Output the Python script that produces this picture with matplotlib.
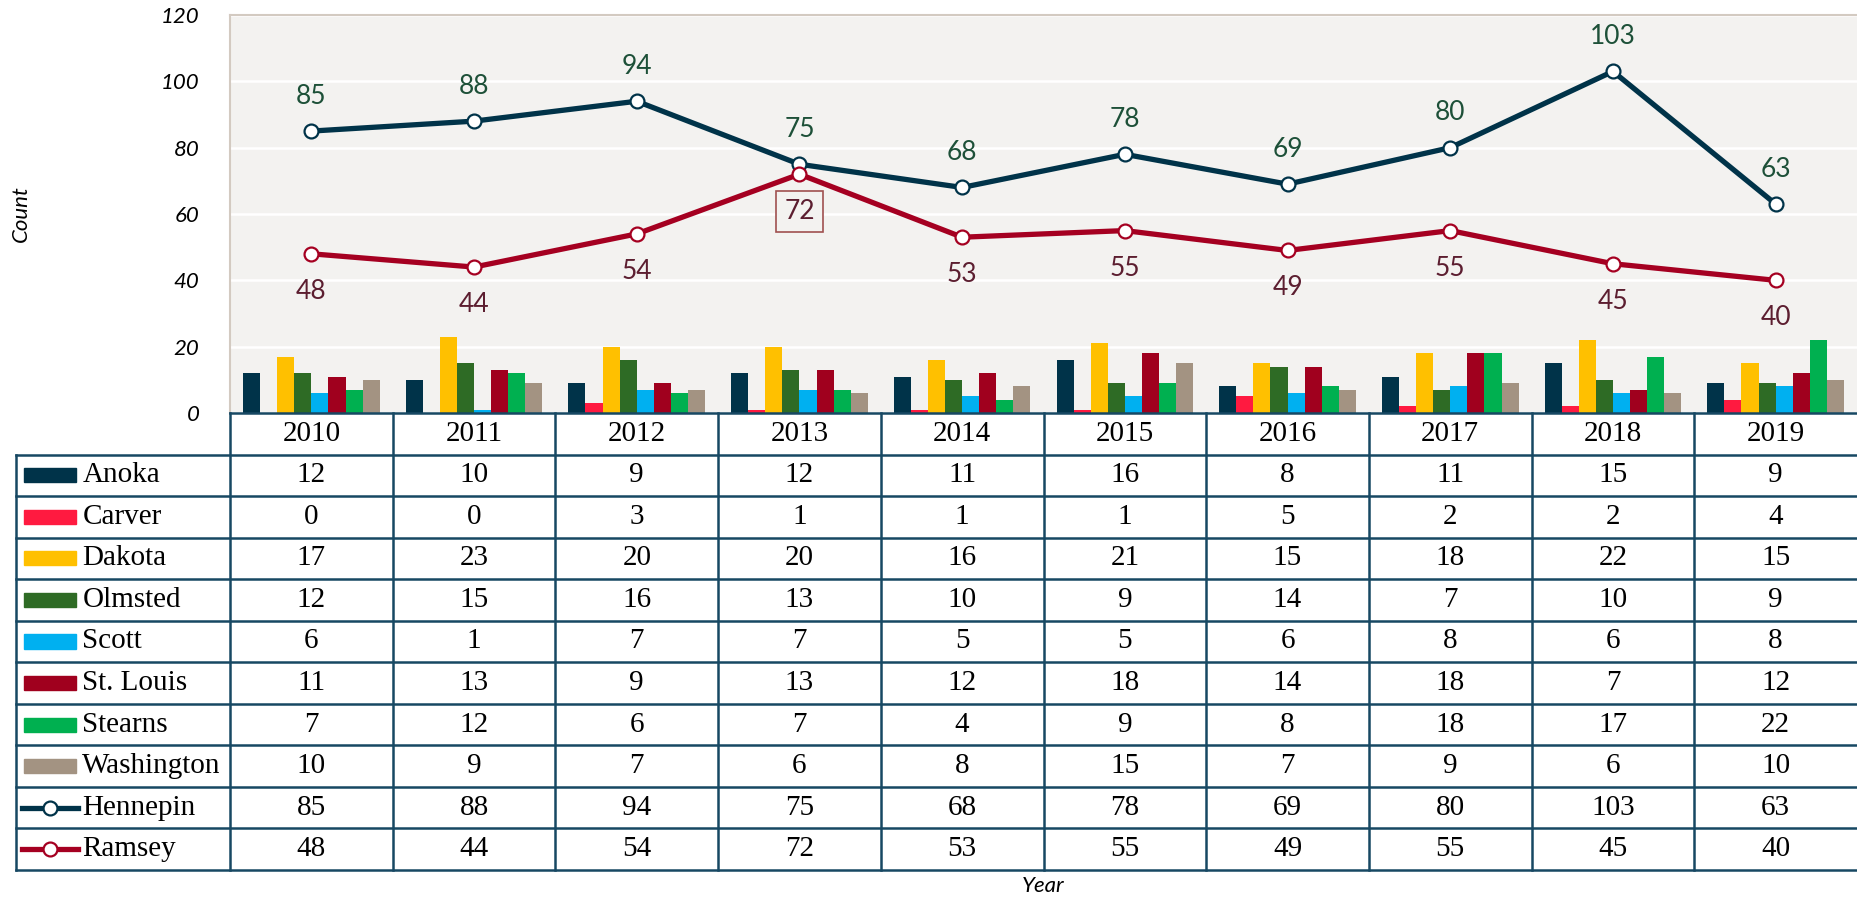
import matplotlib
matplotlib.use('Agg')
import matplotlib.pyplot as plt
from matplotlib.patches import Rectangle
from matplotlib.lines import Line2D

# data
years = ['2010', '2011', '2012', '2013', '2014', '2015', '2016', '2017', '2018', '2019']
bar_counties = ['Anoka', 'Carver', 'Dakota', 'Olmsted', 'Scott', 'St. Louis', 'Stearns', 'Washington']
anoka      = [12, 10, 9, 12, 11, 16, 8, 11, 15, 9]
carver     = [0, 0, 3, 1, 1, 1, 5, 2, 2, 4]
dakota     = [17, 23, 20, 20, 16, 21, 15, 18, 22, 15]
olmsted    = [12, 15, 16, 13, 10, 9, 14, 7, 10, 9]
scott      = [6, 1, 7, 7, 5, 5, 6, 8, 6, 8]
st_louis   = [11, 13, 9, 13, 12, 18, 14, 18, 7, 12]
stearns    = [7, 12, 6, 7, 4, 9, 8, 18, 17, 22]
washington = [10, 9, 7, 6, 8, 15, 7, 9, 6, 10]
hennepin   = [85, 88, 94, 75, 68, 78, 69, 80, 103, 63]
ramsey     = [48, 44, 54, 72, 53, 55, 49, 55, 45, 40]

bar_values = [anoka, carver, dakota, olmsted, scott, st_louis, stearns, washington]
bar_colors = ['#003349', '#FF1A40', '#FFC000', '#2E6B25', '#00B0F0', '#A0001E', '#00B050', '#A39382']
hen_color = '#003349'
ram_color = '#A50021'
grid_line = '#174863'

W, H = 1857, 902
fig = plt.figure(figsize=(W / 100, H / 100), dpi=100)

ax_left = 230 / W
ax_bottom = (H - 413) / H
ax_top = (H - 15) / H
ax = fig.add_axes([ax_left, ax_bottom, 1 - ax_left, ax_top - ax_bottom])
ax.set_facecolor('#F3F2F0')

n = len(years)
x = list(range(n))
bw = 0.105
for i, (vals, col) in enumerate(zip(bar_values, bar_colors)):
    xs = [xi + (i - 3.5) * bw for xi in x]
    ax.bar(xs, vals, width=bw, color=col, zorder=2)

ax.plot(x, hennepin, color=hen_color, lw=3.8, marker='o', ms=10, mfc='white',
        mec=hen_color, mew=1.6, zorder=4)
ax.plot(x, ramsey, color=ram_color, lw=3.8, marker='o', ms=10, mfc='white',
        mec=ram_color, mew=1.6, zorder=4)

for xi, v in zip(x, hennepin):
    ax.annotate(str(v), (xi, v), xytext=(0, 25), textcoords='offset points',
                ha='center', va='center', fontsize=19, family='Lato', color='#1D5038')
for xi, v in zip(x, ramsey):
    box = None
    if v == max(ramsey):
        box = dict(boxstyle='square,pad=0.3', fc='#F3F2F0', ec='#A05050', lw=1.2)
    ax.annotate(str(v), (xi, v), xytext=(0, -27), textcoords='offset points',
                ha='center', va='center', fontsize=19, family='Lato', color='#5C1E30',
                bbox=box)

ax.set_xlim(-0.5, n - 0.5)
ax.set_ylim(0, 120)
ax.set_yticks(range(0, 121, 20))
ax.yaxis.grid(True, color='white', lw=1.8, zorder=1)
ax.set_axisbelow(True)
ax.set_xticks([])
ax.tick_params(axis='y', length=0, pad=22)
for lab in ax.get_yticklabels():
    lab.set_fontsize(16)
    lab.set_style('italic')
    lab.set_family('Lato')
for side in ['left', 'top']:
    ax.spines[side].set_color('#D3CAC1')
    ax.spines[side].set_linewidth(1.5)
ax.spines['right'].set_visible(False)
ax.spines['bottom'].set_visible(False)

fig.text(21 / W, (H - 214) / H, 'Count', rotation=90, ha='center', va='center',
         fontsize=16, style='italic', family='Lato')

# data table below the chart
tb_bottom = (H - 870) / H
tax = fig.add_axes([ax_left, tb_bottom, 1 - ax_left, ax_bottom - tb_bottom])
tax.set_xlim(-0.5, n - 0.5)
tax.set_ylim(11, 0)
tax.axis('off')

px = 1 / 163.0
x_leg = -0.5 - (230 - 16) * px
x_sw0 = -0.5 - (230 - 24) * px
x_sw1 = -0.5 - (230 - 76) * px
x_txt = -0.5 - (230 - 82) * px

tfont = dict(family='Liberation Serif', fontsize=21, color='black')
for j, yr in enumerate(years):
    tax.text(j, 0.5, yr, ha='center', va='center', **tfont)

row_names = bar_counties + ['Hennepin', 'Ramsey']
row_vals = bar_values + [hennepin, ramsey]
for r, (name, vals) in enumerate(zip(row_names, row_vals)):
    yc = r + 1.5
    for j, v in enumerate(vals):
        tax.text(j, yc, str(v), ha='center', va='center', **tfont)
    tax.text(x_txt, yc, name, ha='left', va='center', clip_on=False, **tfont)
    if r < len(bar_counties):
        tax.add_patch(Rectangle((x_sw0, yc - 0.17), x_sw1 - x_sw0, 0.34,
                                color=bar_colors[r], clip_on=False))
    else:
        c = hen_color if name == 'Hennepin' else ram_color
        tax.add_line(Line2D([x_sw0 - 2 * px, x_sw1 + 2 * px], [yc, yc], color=c, lw=3.8,
                            clip_on=False))
        tax.plot([(x_sw0 + x_sw1) / 2], [yc], marker='o', ms=10, mfc='white', mec=c,
                 mew=1.6, clip_on=False)

for k in range(n):
    tax.plot([k - 0.5, k - 0.5], [0, 11], color=grid_line, lw=1.8, clip_on=False)
tax.plot([x_leg, x_leg], [1, 11], color=grid_line, lw=1.8, clip_on=False)
tax.plot([-0.5, n - 0.5], [0, 0], color=grid_line, lw=1.8, clip_on=False)
for r in range(1, 12):
    tax.plot([x_leg, n - 0.5], [r, r], color=grid_line, lw=1.8, clip_on=False)

fig.text(ax_left + (1 - ax_left) / 2, (H - 886) / H, 'Year', ha='center', va='center',
         fontsize=16, style='italic', family='Lato')

fig.savefig('out.png', dpi=100)
